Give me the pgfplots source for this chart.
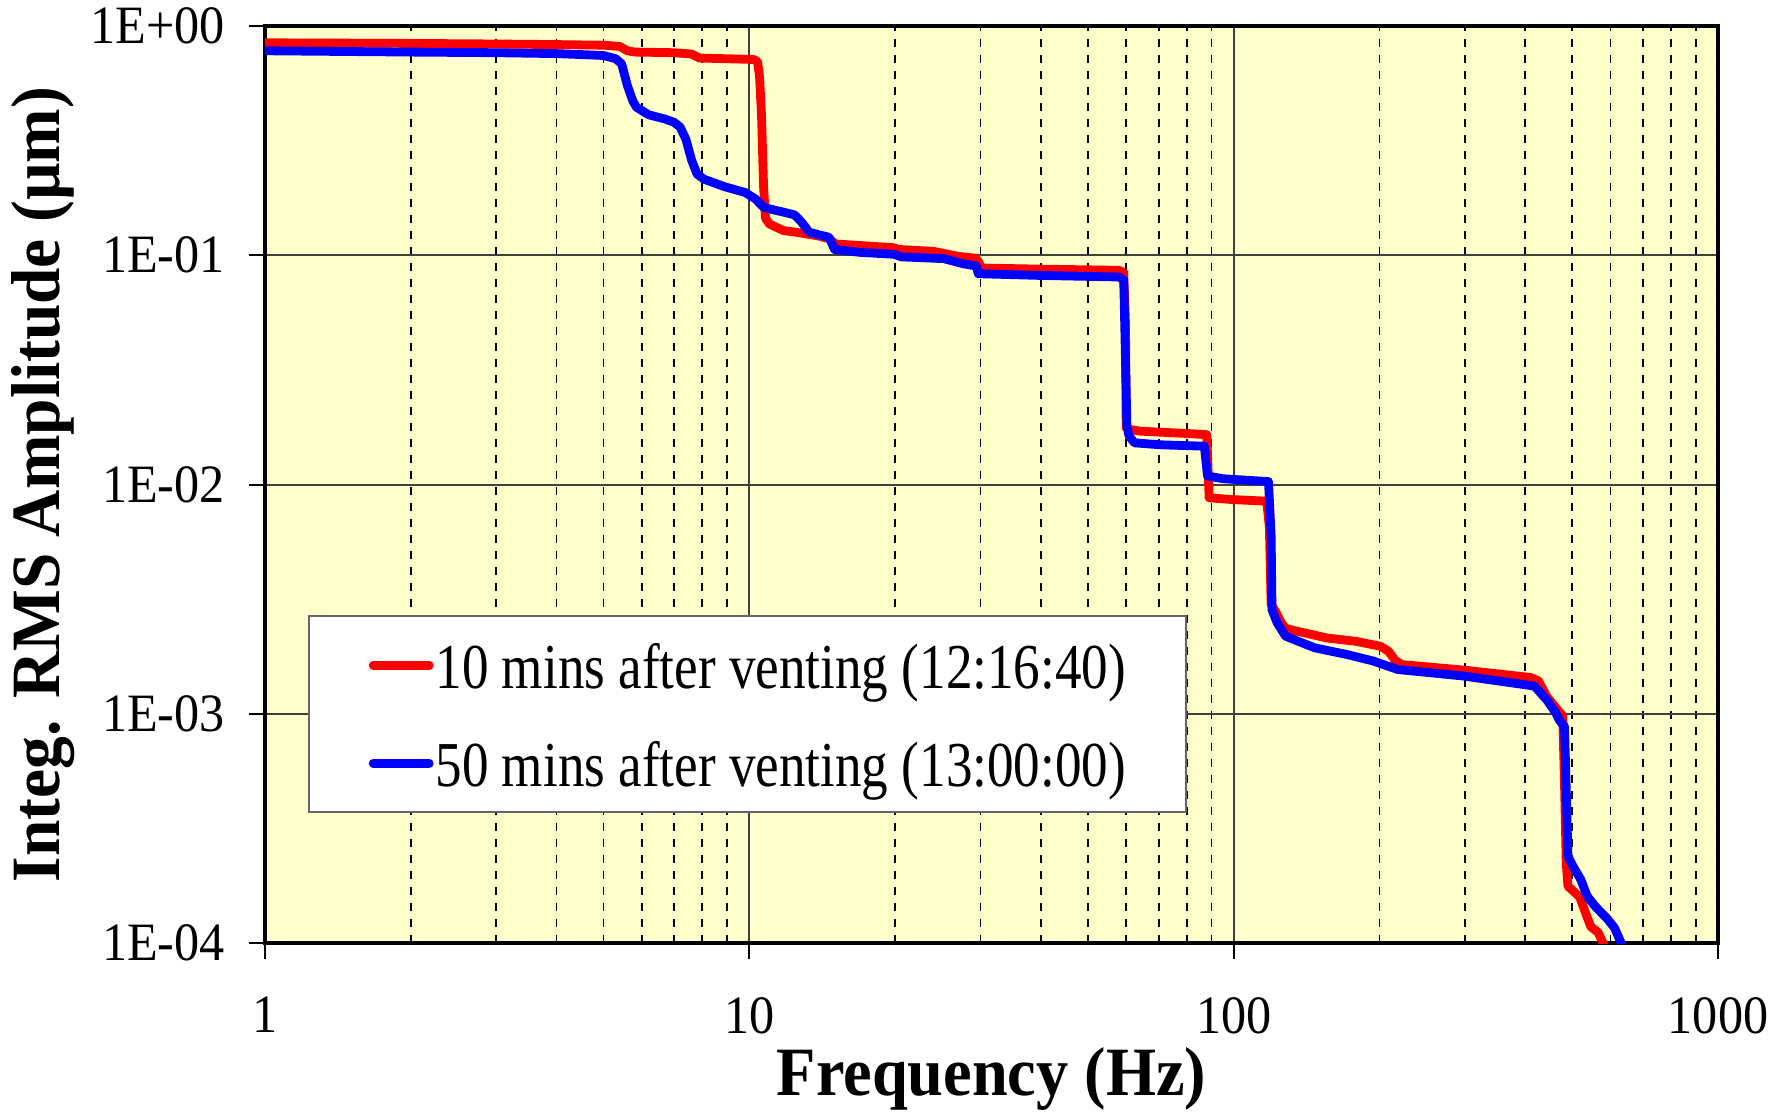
\documentclass[border=0pt]{standalone}
\usepackage{fontspec}
\setmainfont{Liberation Serif}
\newfontfamily\legfont[FakeStretch=0.83]{Liberation Serif}
\newfontfamily\titfont[FakeStretch=0.93]{Liberation Serif}
\newfontfamily\ytitfont[FakeStretch=0.945]{Liberation Serif}
\newfontfamily\tickfont[FakeStretch=0.93]{Liberation Serif}
\usepackage{pgfplots}
\pgfplotsset{compat=1.18}
\definecolor{bgyellow}{RGB}{255,255,204}
\definecolor{myred}{RGB}{255,0,0}
\definecolor{myblue}{RGB}{0,0,255}
\begin{document}
\begin{tikzpicture}
\begin{axis}[
  at={(0,0)}, anchor=south west,
  scale only axis, width=363.25pt, height=229.25pt,
  xmode=log, ymode=log,
  xmin=1, xmax=1000, ymin=1e-4, ymax=1,
  xtick={1,10,100,1000}, xticklabels={1,10,100,1000},
  ytick={1e-4,1e-3,1e-2,1e-1,1}, yticklabels={1E-04,1E-03,1E-02,1E-01,1E+00},
  minor xtick={2,3,4,5,6,7,8,9,20,30,40,50,60,70,80,90,200,300,400,500,600,700,800,900},
  minor ytick={},
  xmajorgrids=true, xminorgrids=true, ymajorgrids=true,
  minor tick length=0pt, major tick length=4pt,
  tick align=outside, tick pos=left,
  major tick style={black, line width=0.5pt},
  major grid style={black!75, line width=0.5pt},
  minor grid style={black, line width=0.45pt, dash pattern=on 2pt off 2pt},
  axis line style={black, line width=1pt},
  axis background/.style={fill=bgyellow},
  ticklabel style={font=\tickfont\fontsize{13.5}{15}\selectfont},
  xticklabel style={yshift=-6pt},
  yticklabel style={xshift=-2.5pt},
  xlabel={\titfont\bfseries Frequency (Hz)},
  ylabel={\ytitfont\bfseries Integ. RMS Amplitude (µm)},
  label style={font=\fontsize{17.3}{20}\selectfont},
  xlabel style={at={(axis description cs:0.5,-0.1483)}, anchor=center},
  ylabel style={at={(axis description cs:-0.1528,0.5)}, anchor=center},
  legend style={at={(0.0296,0.1418)}, anchor=south west, draw=black!60, fill=white,
    inner xsep=15pt, inner ysep=5pt, row sep=10pt,
    font=\legfont\fontsize{16}{19}\selectfont,
    nodes={inner sep=0pt, text height=13pt, text depth=1.5pt},
    /tikz/every odd column/.append style={column sep=0.5pt}},
  legend image code/.code={\draw[#1, line width=2.2pt, line cap=round] (0pt,0pt) -- (14pt,0pt);},
  legend cell align=left,
]
\addplot[myred, line width=2.2pt, line join=round] coordinates {
(1,0.845) (2,0.84) (3,0.835) (4,0.83) (5,0.825) (5.4,0.815) (5.6,0.78) (5.8,0.77)
(7.0,0.765) (7.6,0.755) (7.9,0.725) (9,0.72) (10.2,0.715) (10.4,0.70) (10.5,0.6)
(10.6,0.4) (10.7,0.2) (10.8,0.145) (11.0,0.137) (11.5,0.131) (11.8,0.128) (12.5,0.126)
(13.1,0.124) (14.0,0.121) (14.6,0.118) (15.1,0.112) (19.8,0.108) (20.4,0.106) (24,0.104)
(27,0.099) (29.4,0.097) (29.8,0.093) (30.1,0.088) (40,0.087) (58,0.086) (59.3,0.084)
(59.8,0.05) (60.0,0.0177) (61,0.0174) (64,0.0171) (80,0.0167) (88,0.0165) (88.5,0.012)
(89,0.00875) (99,0.0086) (117,0.00846) (118.5,0.0065) (119.5,0.0030) (122,0.0028)
(125.5,0.00249) (128,0.00236) (133,0.00231) (156,0.00214) (179,0.00207) (201,0.00197)
(209,0.00187) (215,0.00172) (222,0.00164) (299,0.00155) (410,0.00144) (426,0.00139)
(443,0.00119) (470,0.00102) (478,0.00098) (482,0.0005) (486,0.000224) (490,0.000177)
(518,0.000159) (533,0.000135) (546,0.000118) (566,0.000111) (579,0.0001) (585,0.000095)
};
\addlegendentry{10 mins after venting (12:16:40)}
\addplot[myblue, line width=2.2pt, line join=round] coordinates {
(1,0.78) (2,0.77) (3,0.765) (4,0.758) (5,0.744) (5.3,0.72) (5.45,0.684) (5.6,0.55)
(5.75,0.47) (5.85,0.442) (6.2,0.41) (6.7,0.393) (7.0,0.38) (7.2,0.362) (7.4,0.32)
(7.6,0.26) (7.8,0.226) (8.05,0.215) (8.9,0.199) (9.8,0.188) (10.3,0.176) (10.7,0.162)
(11.2,0.158) (11.8,0.154) (12.4,0.15) (12.8,0.14) (13.3,0.126) (14.1,0.122) (14.6,0.12)
(15.0,0.106) (16.9,0.103) (19.9,0.101) (20.6,0.0984) (25.2,0.0967) (27.6,0.0919)
(29.4,0.0898) (29.7,0.0831) (39.7,0.0817) (58,0.0804) (59.3,0.078) (59.9,0.03)
(60.2,0.018) (60.8,0.0163) (62.4,0.0152) (70.8,0.0149) (87,0.0147) (88.3,0.0109)
(95,0.0106) (118,0.0103) (119.5,0.006) (120,0.00284) (123,0.00249) (128,0.00218)
(136,0.00207) (147,0.00194) (172,0.00181) (194,0.0017) (218,0.00156) (299,0.00146)
(379,0.00136) (418,0.00132) (443,0.00115) (461,0.00102) (470,0.00094) (482,0.00088)
(486,0.00047) (490,0.000239) (502,0.000216) (521,0.000189) (537,0.00016) (557,0.000145)
(592,0.000127) (612,0.000116) (631,0.0001) (640,0.000095)
};
\addlegendentry{50 mins after venting (13:00:00)}
\end{axis}
\pgfresetboundingbox
\path (-66.25pt,-43.5pt) rectangle (381.5pt,235.75pt);
\end{tikzpicture}
\end{document}
